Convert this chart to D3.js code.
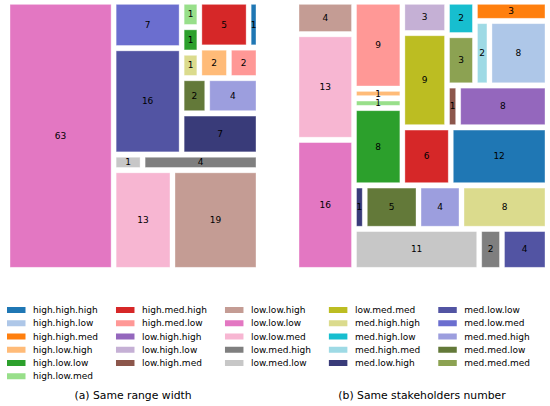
<!DOCTYPE html>
<html>
<head>
<meta charset="utf-8">
<script src="https://cdn.jsdelivr.net/npm/d3@7"></script>
<style>
  body { margin: 0; background: #fff; }
  text { font-family: "DejaVu Sans", sans-serif; }
</style>
</head>
<body>
<div id="chart"></div>
<script>
/* global d3 */

// Legend categories (alphabetical, tab20 + tab20b colours)
const categories = [
  'high.high.high', 'high.high.low', 'high.high.med', 'high.low.high', 'high.low.low', 'high.low.med',
  'high.med.high', 'high.med.low', 'low.high.high', 'low.high.low', 'low.high.med',
  'low.low.high', 'low.low.low', 'low.low.med', 'low.med.high', 'low.med.low',
  'low.med.med', 'med.high.high', 'med.high.low', 'med.high.med', 'med.low.high',
  'med.low.low', 'med.low.med', 'med.med.high', 'med.med.low', 'med.med.med'
]
const palette = [
  '#1f77b4', '#aec7e8', '#ff7f0e', '#ffbb78', '#2ca02c', '#98df8a', '#d62728', '#ff9896',
  '#9467bd', '#c5b0d5', '#8c564b', '#c49c94', '#e377c2', '#f7b6d2', '#7f7f7f', '#c7c7c7',
  '#bcbd22', '#dbdb8d', '#17becf', '#9edae5',
  '#393b79', '#5254a3', '#6b6ecf', '#9c9ede', '#637939', '#8ca252'
]

// (a) Same range width
const labelsA = [
  'low.low.low', 'low.low.med', 'low.low.high', 'low.med.low', 'low.med.high',
  'med.low.low', 'med.low.med', 'med.low.high', 'med.med.low', 'med.med.high', 'med.high.high',
  'high.low.low', 'high.low.med', 'high.low.high', 'high.med.low', 'high.med.high', 'high.high.high'
]
const valuesA = [63, 13, 19, 1, 4, 16, 7, 7, 2, 4, 1, 1, 1, 2, 2, 5, 1]

// (b) Same stakeholders number
const labelsB = [
  'low.low.low', 'low.low.med', 'low.low.high', 'low.med.low', 'low.med.high',
  'med.low.low', 'med.low.high', 'med.med.low', 'med.med.high', 'med.high.high',
  'high.low.low', 'high.low.med', 'high.low.high', 'high.med.low', 'high.med.high', 'high.high.high',
  'low.med.med', 'low.high.low', 'low.high.med', 'low.high.high',
  'med.med.med', 'med.high.low', 'med.high.med', 'high.high.low', 'high.high.med'
]
const valuesB = [16, 13, 4, 11, 2, 4, 1, 5, 4, 8, 8, 1, 1, 9, 6, 12, 9, 3, 1, 8, 3, 2, 2, 8, 3]

const captions = ['(a) Same range width', '(b) Same stakeholders number']

const width = 550,
  height = 406

const color = d3.scaleOrdinal().domain(categories).range(palette)

let svg = d3.select('#chart')
  .append('svg')
  .attr('width', width)
  .attr('height', height)

// squarify layout (same algorithm as python squarify, y going up)
const layoutRow = (sizes, x, y, dx, dy) => {
  const w = d3.sum(sizes) / dy
  return sizes.map(s => {
    const r = { x: x, y: y, dx: w, dy: s / w }
    y += s / w
    return r
  })
}
const layoutCol = (sizes, x, y, dx, dy) => {
  const h = d3.sum(sizes) / dx
  return sizes.map(s => {
    const r = { x: x, y: y, dx: s / h, dy: h }
    x += s / h
    return r
  })
}
const layout = (s, x, y, dx, dy) => dx >= dy ? layoutRow(s, x, y, dx, dy) : layoutCol(s, x, y, dx, dy)
const leftover = (s, x, y, dx, dy) => {
  const a = d3.sum(s)
  if (dx >= dy) {
    const w = a / dy
    return [x + w, y, dx - w, dy]
  }
  const h = a / dx
  return [x, y + h, dx, dy - h]
}
const worst = (s, x, y, dx, dy) =>
  d3.max(layout(s, x, y, dx, dy), r => Math.max(r.dx / r.dy, r.dy / r.dx))

let squarify = (sizes, x, y, dx, dy) => {
  if (!sizes.length) return []
  if (sizes.length === 1) return layout(sizes, x, y, dx, dy)
  let i = 1
  while (i < sizes.length &&
    worst(sizes.slice(0, i), x, y, dx, dy) >= worst(sizes.slice(0, i + 1), x, y, dx, dy)) i++
  const cur = sizes.slice(0, i)
  const [lx, ly, ldx, ldy] = leftover(cur, x, y, dx, dy)
  return layout(cur, x, y, dx, dy).concat(squarify(sizes.slice(i), lx, ly, ldx, ldy))
}

let drawTreemap = (labels, values, x0, x1) => {
  const total = d3.sum(values)
  const norm = values.map(v => v * 100 * 100 / total)
  const rects = squarify(norm, 0, 0, 100, 100).map((r, i) => {
    // padding like squarify.padded_squarify
    if (r.dx > 2) { r.x += 1; r.dx -= 2 }
    if (r.dy > 2) { r.y += 1; r.dy -= 2 }
    r.label = labels[i]
    r.value = values[i]
    return r
  })

  const xScale = d3.scaleLinear().domain([0, 100]).range([x0, x1])
  const yScale = d3.scaleLinear().domain([0, 100]).range([270, 1.65])

  const g = svg.append('g')
  g.selectAll('rect')
    .data(rects)
    .enter()
    .append('rect')
    .attr('x', d => xScale(d.x))
    .attr('y', d => yScale(d.y + d.dy))
    .attr('width', d => xScale(d.x + d.dx) - xScale(d.x))
    .attr('height', d => yScale(d.y) - yScale(d.y + d.dy))
    .attr('fill', d => color(d.label))
    .attr('stroke', '#fff')
    .attr('stroke-opacity', 0.45)
    .attr('stroke-width', 0.8)

  g.selectAll('text')
    .data(rects)
    .enter()
    .append('text')
    .attr('x', d => xScale(d.x + d.dx / 2))
    .attr('y', d => yScale(d.y + d.dy / 2))
    .attr('text-anchor', 'middle')
    .attr('dominant-baseline', 'central')
    .attr('font-size', '9px')
    .attr('fill', '#000')
    .text(d => d.value)

  return (x0 + x1) / 2
}

const centerA = drawTreemap(labelsA, valuesA, 7.5, 258.5)
const centerB = drawTreemap(labelsB, valuesB, 296.5, 547.5)

// Legend, 5 columns like matplotlib (first column takes the extra item)
const ncol = 5
const perCol = Math.floor(categories.length / ncol)
const extra = categories.length % ncol
let columns = []
let start = 0
for (let c = 0; c < ncol; c++) {
  const n = perCol + (c < extra ? 1 : 0)
  columns.push(categories.slice(start, start + n))
  start += n
}

const legend = svg.append('g')
let colX = 7
columns.forEach(col => {
  const cg = legend.append('g')
  col.forEach((name, r) => {
    const cy = 310 + r * 13.25
    cg.append('rect')
      .attr('x', colX)
      .attr('y', cy - 3)
      .attr('width', 18.5)
      .attr('height', 6)
      .attr('fill', color(name))
    cg.append('text')
      .attr('x', colX + 26)
      .attr('y', cy)
      .attr('dominant-baseline', 'central')
      .attr('font-size', '9px')
      .attr('fill', '#000')
      .text(name)
  })
  const maxW = d3.max(cg.selectAll('text').nodes(), n => n.getComputedTextLength())
  colX = colX + 26 + maxW + 18
})

svg.selectAll('text.caption')
  .data(captions)
  .enter()
  .append('text')
  .attr('class', 'caption')
  .attr('x', (d, i) => i === 0 ? centerA : centerB)
  .attr('y', 398.5)
  .attr('text-anchor', 'middle')
  .attr('font-size', '10.8px')
  .attr('fill', '#000')
  .text(d => d)
</script>
</body>
</html>
